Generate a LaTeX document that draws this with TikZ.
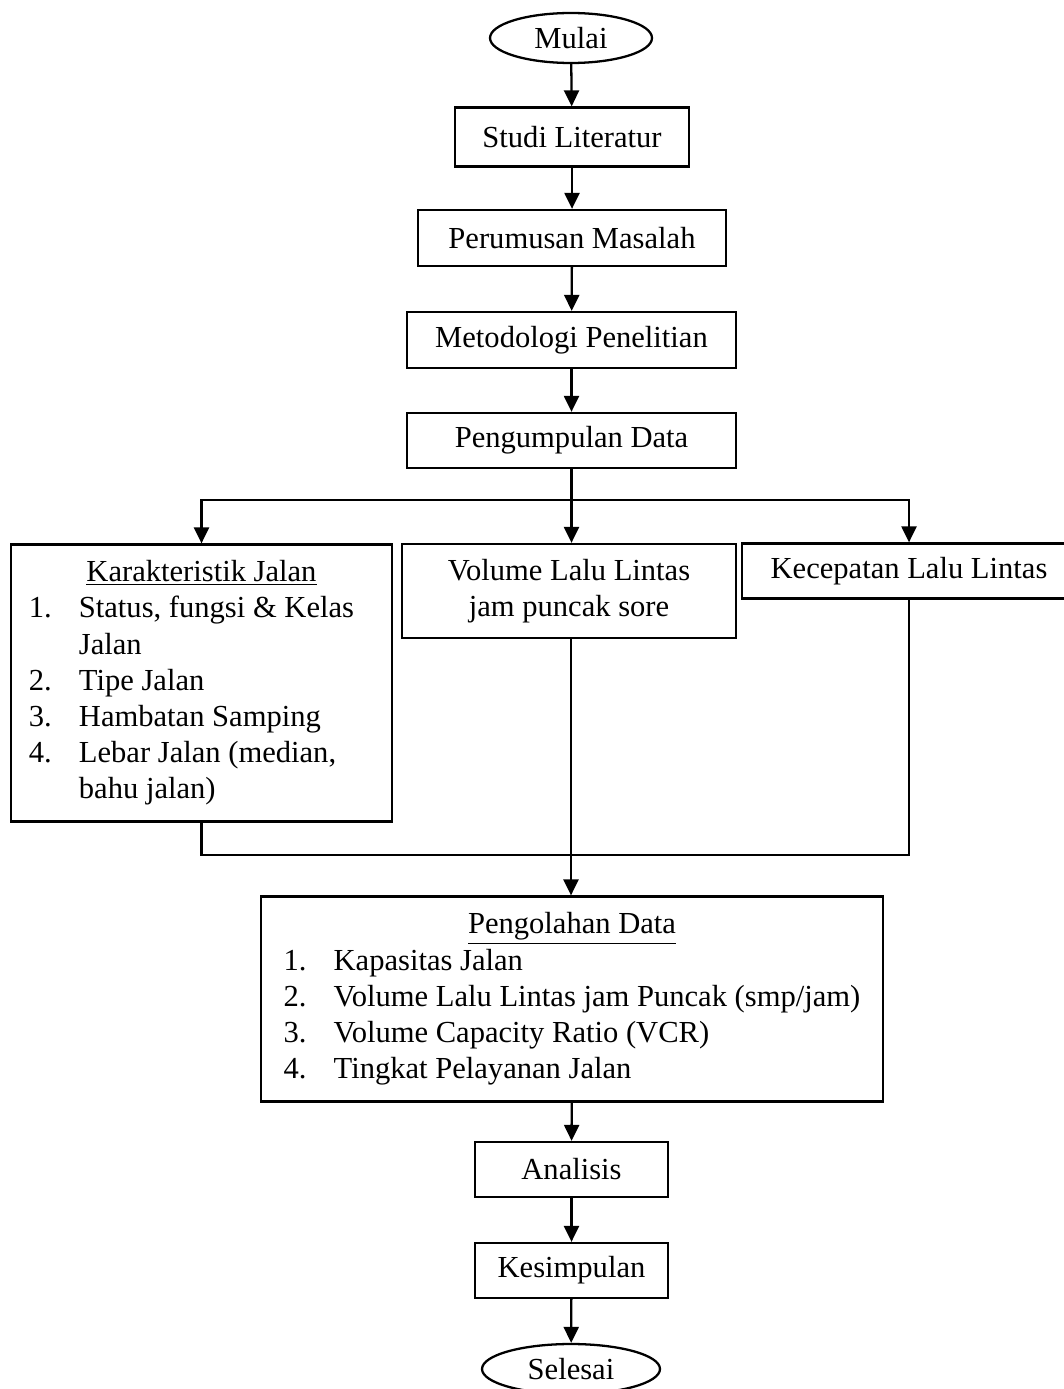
\documentclass[tikz,border=0pt]{standalone}
\usepackage{fontspec}
\setmainfont{Liberation Serif}
\usetikzlibrary{arrows.meta,shapes.geometric}

\begin{document}
\begin{tikzpicture}[
  x=0.02cm, y=-0.02cm,
  font=\fontsize{17.4}{20.6}\selectfont,
  procbox/.style={draw, line width=1.3pt, align=center, inner sep=2pt, minimum height=1.1cm},
  termbox/.style={draw, ellipse, line width=1.3pt, inner sep=1pt, minimum height=1.0cm},
  listbox/.style={draw, line width=1.3pt, inner sep=2pt},
  arrow/.style={-{Triangle[length=0.32cm,width=0.3cm]}, line width=1.3pt},
  link/.style={line width=1.3pt}
]
\useasboundingbox (0,0) rectangle (1063,1389);

\node[termbox, minimum width=3.24cm] (mulai) at (571,38) {Mulai};
\node[procbox, minimum width=4.68cm, minimum height=1.18cm] (studi) at (572,137) {Studi Literatur};
\node[procbox, minimum width=6.16cm, minimum height=1.12cm] (perumusan) at (572,238) {Perumusan Masalah};
\node[procbox, minimum width=6.58cm, minimum height=1.12cm] (metodologi) at (571.5,340) {Metodologi Penelitian};
\node[procbox, minimum width=6.58cm] (pengumpulan) at (571.5,440.5) {Pengumpulan Data};

\node[listbox, minimum width=7.62cm, minimum height=5.54cm] (karakter) at (201.5,683) {%
  \begin{tabular}{@{}p{1cm}@{}l@{\hspace{0.4cm}}}
  \multicolumn{2}{c}{\underline{Karakteristik Jalan}}\\
  1. & Status, fungsi \& Kelas\\
     & Jalan\\
  2. & Tipe Jalan\\
  3. & Hambatan Samping\\
  4. & Lebar Jalan (median,\\
     & bahu jalan)
  \end{tabular}};
\node[procbox, minimum width=6.68cm, minimum height=1.88cm] (volume) at (569,591) {Volume Lalu Lintas\\jam puncak sore};
\node[procbox, minimum width=6.68cm] (kecepatan) at (909,571) {Kecepatan Lalu Lintas};

\node[listbox, minimum width=12.44cm, minimum height=4.1cm] (pengolahan) at (572,999) {%
  \begin{tabular}{@{}p{1cm}@{}l@{}}
  \multicolumn{2}{c}{\underline{Pengolahan Data}}\\
  1. & Kapasitas Jalan\\
  2. & Volume Lalu Lintas jam Puncak (smp/jam)\\
  3. & Volume Capacity Ratio (VCR)\\
  4. & Tingkat Pelayanan Jalan
  \end{tabular}};

\node[procbox, minimum width=3.86cm] (analisis) at (571.5,1169.5) {Analisis};
\node[procbox, minimum width=3.86cm] (kesimpulan) at (571.5,1270.5) {Kesimpulan};
\node[termbox, minimum width=3.56cm] (selesai) at (571,1369) {Selesai};

\coordinate (split) at (571,500);
\coordinate (merge) at (571,855);

\draw[arrow] (mulai) -- (studi);
\draw[arrow] (studi) -- (perumusan);
\draw[arrow] (perumusan) -- (metodologi);
\draw[arrow] (metodologi) -- (pengumpulan);

\draw[arrow] (pengumpulan) -- (pengumpulan |- volume.north);
\draw[arrow] (split) -| (karakter.north);
\draw[arrow] (split) -| (kecepatan.north);

\draw[link] (karakter.south) |- (merge);
\draw[link] (kecepatan.south) |- (merge);
\draw[arrow] (volume.south -| merge) -- (pengolahan.north -| merge);

\draw[arrow] (pengolahan) -- (analisis);
\draw[arrow] (analisis) -- (kesimpulan);
\draw[arrow] (kesimpulan) -- (selesai);
\end{tikzpicture}
\end{document}
